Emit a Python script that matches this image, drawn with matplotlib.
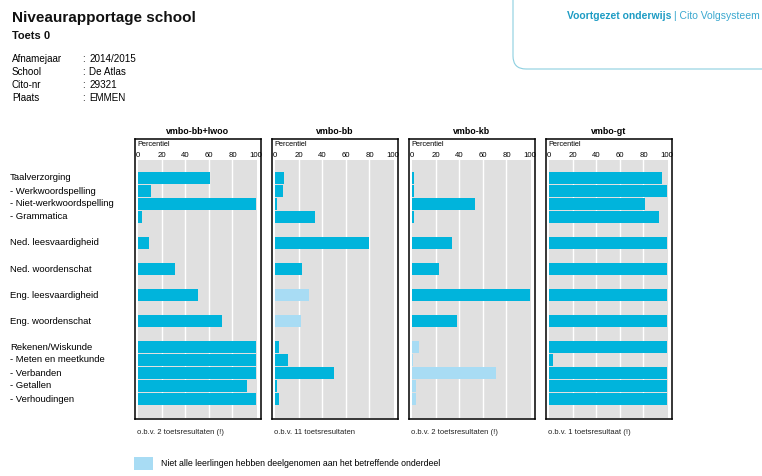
import numpy as np
import matplotlib
matplotlib.use('Agg')
import matplotlib.pyplot as plt
from matplotlib.patches import FancyBboxPatch, Rectangle

plt.rcParams['font.family'] = ['Liberation Sans', 'DejaVu Sans']

# data
onderdelen = ['Taalverzorging', '- Werkwoordspelling', '- Niet-werkwoordspelling', '- Grammatica',
              'Ned. leesvaardigheid', 'Ned. woordenschat', 'Eng. leesvaardigheid', 'Eng. woordenschat',
              'Rekenen/Wiskunde', '- Meten en meetkunde', '- Verbanden', '- Getallen', '- Verhoudingen']
rij_pos = [0, 1, 2, 3, 5, 7, 9, 11, 13, 14, 15, 16, 17]

niveaus = ['vmbo-bb+lwoo', 'vmbo-bb', 'vmbo-kb', 'vmbo-gt']
bb_lwoo = [61, 11, 100, 3, 9, 31, 51, 71, 100, 100, 100, 92, 100]
bb = [8, 7, 2, 34, 80, 23, 29, 22, 3, 11, 50, 2, 3]
kb = [2, 2, 53, 2, 34, 23, 100, 38, 6, 1, 71, 3, 3]
gt = [96, 100, 81, 93, 100, 100, 100, 100, 100, 3, 100, 100, 100]
# True = niet alle leerlingen hebben deelgenomen
bb_lwoo_deels = [False] * 13
bb_deels = [False] * 6 + [True, True] + [False] * 5
kb_deels = [False] * 8 + [True] * 5
gt_deels = [False] * 13
notities = ['o.b.v. 2 toetsresultaten (!)', 'o.b.v. 11 toetsresultaten',
            'o.b.v. 2 toetsresultaten (!)', 'o.b.v. 1 toetsresultaat (!)']

info_labels = ['Afnamejaar', 'School', 'Cito-nr', 'Plaats']
info_waarden = ['2014/2015', 'De Atlas', '29321', 'EMMEN']

blauw = '#00b4dc'
lichtblauw = '#a8dcf4'
grijs = '#e0e0e0'
W, H = 762, 476


def fx(px):
    return px / W


def fy(py):
    return 1 - py / H


fig = plt.figure(figsize=(W / 100, H / 100), dpi=100)
fig.patch.set_facecolor('white')

# header
fig.text(fx(12), fy(18), 'Niveaurapportage school', fontsize=11, fontweight='bold', va='center', color='#111111')
fig.text(fx(12), fy(36), 'Toets 0', fontsize=8, fontweight='bold', va='center', color='#111111')
for i, (lab, val) in enumerate(zip(info_labels, info_waarden)):
    y = fy(59 + i * 13)
    fig.text(fx(12), y, lab, fontsize=7.1, va='center')
    fig.text(fx(82), y, ':', fontsize=7.1, va='center')
    fig.text(fx(89), y, val, fontsize=7.1, va='center')

# rounded box top right
fig.patches.append(FancyBboxPatch((5.13, (H - 69) / 100), 3.0, 1.5,
                                  boxstyle='round,pad=0,rounding_size=0.13',
                                  transform=fig.dpi_scale_trans, fill=False,
                                  edgecolor='#8ccfe0', linewidth=0.8))
t1 = fig.text(fx(567), fy(16), 'Voortgezet onderwijs', fontsize=7.5, fontweight='bold',
              color='#1e9cc4', va='center')
fig.canvas.draw()
bb1 = t1.get_window_extent()
fig.text(bb1.x1 / W + 0.004, fy(16), '| Cito Volgsysteem', fontsize=7.5, color='#3aa8cf', va='center')

# row labels
for lab, p in zip(onderdelen, rij_pos):
    fig.text(fx(10), fy(178 + p * 13), lab, fontsize=6.8, va='center')

reeksen = [bb_lwoo, bb, kb, gt]
deels = [bb_lwoo_deels, bb_deels, kb_deels, gt_deels]
box_links = [135, 272, 409, 546]
box_w = 126
box_top, box_bot = 139, 419
gray_top = 160

for k in range(4):
    xl = box_links[k]
    # outer frame
    outer = fig.add_axes([fx(xl), fy(box_bot), box_w / W, (box_bot - box_top) / H])
    outer.set_xticks([])
    outer.set_yticks([])
    outer.patch.set_alpha(0)
    for s in outer.spines.values():
        s.set_linewidth(1.1)
        s.set_color('black')
    fig.text(fx(xl + box_w / 2), fy(131), niveaus[k], fontsize=6.4, fontweight='bold', ha='center', va='center')
    fig.text(fx(xl + 2), fy(144), 'Percentiel', fontsize=5.3, va='center')

    ax = fig.add_axes([fx(xl + 3), fy(box_bot - 1), 119 / W, (box_bot - 1 - gray_top) / H])
    ax.set_facecolor(grijs)
    kleuren = [lichtblauw if d else blauw for d in deels[k]]
    ax.barh(rij_pos, reeksen[k], height=0.87, color=kleuren, zorder=3)
    ax.set_xlim(0, 100.8)
    ax.set_ylim(18.46, -1.385)
    for g in [20, 40, 60, 80]:
        ax.axvline(g, color='white', linewidth=1, zorder=1)
    ax.set_yticks([])
    ax.set_xticks([0, 20, 40, 60, 80, 100])
    ax.xaxis.tick_top()
    ax.tick_params(axis='x', length=0, pad=0.8, labelsize=5.6)
    for s in ax.spines.values():
        s.set_visible(False)
    fig.text(fx(xl + 2), fy(432), notities[k], fontsize=5.5, va='center', color='#222222')

# legend
fig.patches.append(Rectangle((fx(134), fy(470)), 19 / W, 13 / H, transform=fig.transFigure,
                             facecolor=lichtblauw, edgecolor='none'))
fig.text(fx(161), fy(464), 'Niet alle leerlingen hebben deelgenomen aan het betreffende onderdeel',
         fontsize=6.3, va='center')

plt.savefig('out.png', dpi=100)
